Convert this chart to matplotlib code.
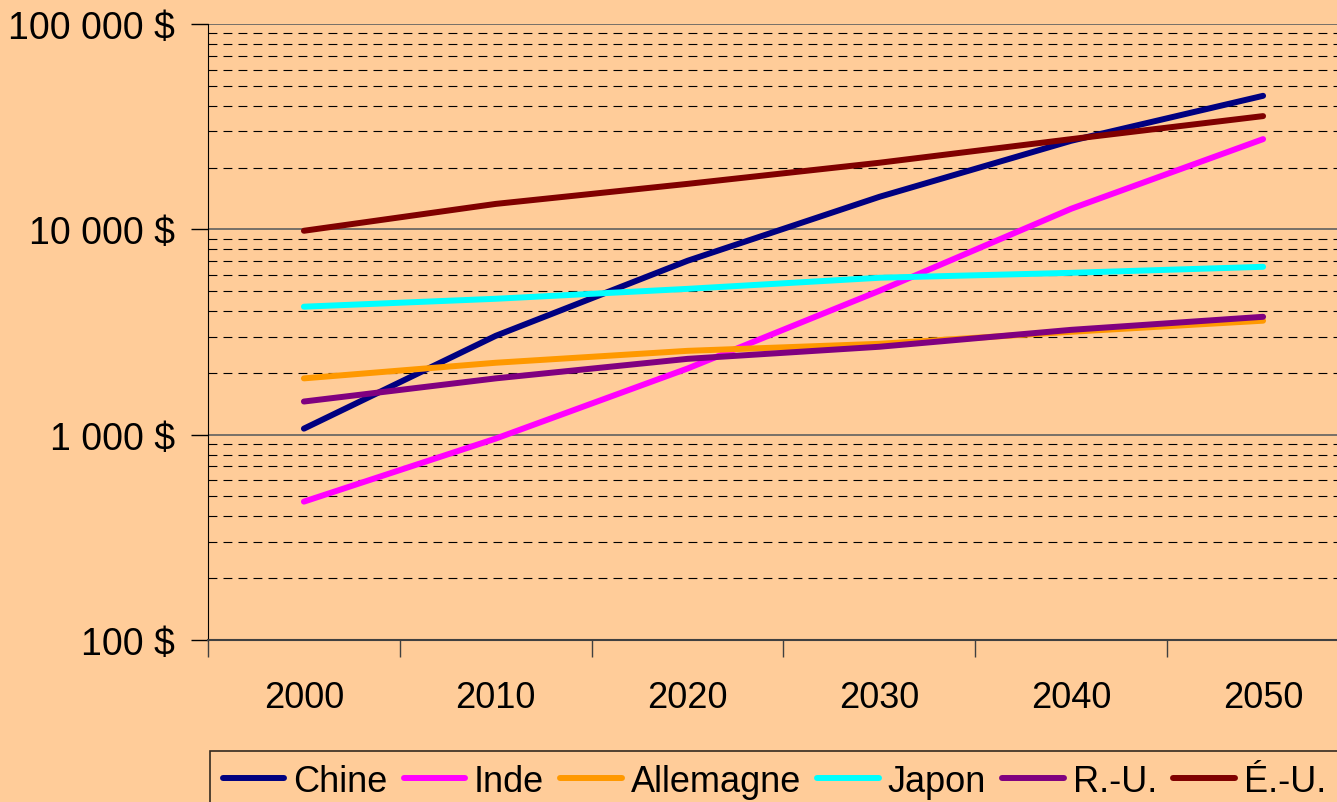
import matplotlib
matplotlib.use("Agg")
import matplotlib.pyplot as plt
from matplotlib.ticker import FixedLocator, NullFormatter

# Years (categories)
years = ["2000", "2010", "2020", "2030", "2040", "2050"]

# GDP per capita series (log scale)
chine = [1070, 3030, 7030, 14400, 27000, 44700]
inde = [472, 957, 2100, 5020, 12600, 27500]
allemagne = [1880, 2240, 2560, 2770, 3170, 3590]
japon = [4200, 4590, 5130, 5810, 6140, 6570]
ru = [1450, 1880, 2340, 2680, 3240, 3750]
eu = [9840, 13300, 16650, 21100, 27500, 35600]

series_names = ["Chine", "Inde", "Allemagne", "Japon", "R.-U.", "É.-U."]
series_colors = ["#000080", "#FF00FF", "#FF9900", "#00FFFF", "#800080", "#800000"]

bg = "#FFCC99"
plt.rcParams['font.family'] = ['Liberation Sans', 'DejaVu Sans']

fig = plt.figure(figsize=(13.37, 8.03), dpi=100, facecolor=bg)
W, H = 1337, 803
ax = fig.add_axes([208 / W, 1 - 641 / H, (1359 - 208) / W, (641 - 25) / H])
ax.set_facecolor(bg)

x = list(range(len(years)))
for vals, name, col in zip([chine, inde, allemagne, japon, ru, eu], series_names, series_colors):
    ax.plot(x, vals, color=col, lw=4.3, label=name, solid_capstyle="round", zorder=3)

ax.set_yscale("log")
ax.set_ylim(100, 100000)
ax.set_xlim(-0.5, 5.5)

# y ticks
ax.yaxis.set_major_locator(FixedLocator([100, 1000, 10000, 100000]))
ax.set_yticklabels(["100 $", "1 000 $", "10 000 $", "100 000 $"])
minor = [m * 10 ** e for e in (2, 3, 4) for m in range(2, 10)]
ax.yaxis.set_minor_locator(FixedLocator(minor))
ax.yaxis.set_minor_formatter(NullFormatter())
ax.tick_params(axis="y", which="major", length=12, width=1, pad=12, labelsize=27, colors="black")
ax.tick_params(axis="y", which="minor", length=0)

# x ticks: marks between categories, labels at centers
ax.set_xticks([i - 0.5 for i in range(len(years) + 1)])
ax.set_xticklabels([])
ax.set_xticks(x, minor=True)
ax.set_xticklabels(years, minor=True)
ax.tick_params(axis="x", which="major", length=12, width=1, color="#404040")
ax.tick_params(axis="x", which="minor", length=0, pad=29, labelsize=26)

# gridlines
ax.grid(which="major", axis="y", color="#606060", lw=1.2, zorder=1)
ax.grid(which="minor", axis="y", color="black", lw=0.8, linestyle=(0, (8, 5.5)), zorder=1)

ax.spines["right"].set_visible(False)
ax.spines["top"].set_visible(False)
ax.spines["left"].set_color("black")
ax.spines["bottom"].set_color("#404040")
ax.spines["bottom"].set_linewidth(1.5)

leg = fig.legend(loc="upper left", bbox_to_anchor=(210 / W, 1 - 752 / H), ncol=6,
                 fontsize=26, frameon=True, fancybox=False, edgecolor="black",
                 facecolor=bg, handlelength=1.7, handletextpad=0.25,
                 columnspacing=0.45, borderpad=0.35, borderaxespad=0)
leg.get_frame().set_linewidth(1.2)

fig.savefig("out.png", dpi=100, facecolor=bg)
